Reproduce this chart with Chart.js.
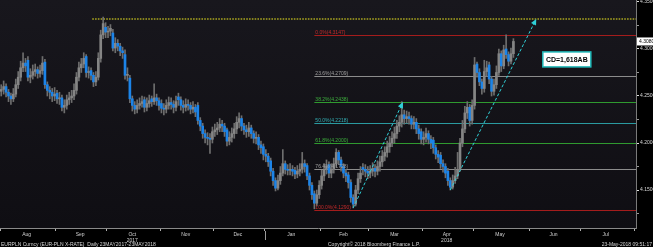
<!DOCTYPE html>
<html><head><meta charset="utf-8">
<script src="https://cdn.jsdelivr.net/npm/chart.js@4.4.1/dist/chart.umd.min.js"></script>
<style>html,body{margin:0;padding:0;background:#000;overflow:hidden}canvas{display:block}</style>
</head><body>
<canvas id="c" width="653" height="247"></canvas>
<script>
// Daily EUR/PLN bars, trading-day index 0 = 1 Aug 2017 ... 211 = 23 May 2018
const opens=[4.255,4.257,4.260,4.254,4.250,4.247,4.252,4.262,4.270,4.280,
4.285,4.288,4.270,4.272,4.276,4.278,4.274,4.277,4.286,4.262,
4.256,4.254,4.250,4.253,4.247,4.248,4.238,4.240,4.246,4.248,
4.250,4.256,4.270,4.280,4.284,4.292,4.275,4.277,4.272,4.265,
4.270,4.290,4.315,4.323,4.318,4.319,4.317,4.301,4.306,4.303,
4.298,4.294,4.272,4.269,4.247,4.240,4.236,4.240,4.242,4.246,
4.238,4.242,4.247,4.244,4.248,4.245,4.242,4.237,4.236,4.240,
4.243,4.241,4.238,4.249,4.246,4.240,4.238,4.241,4.240,4.236,
4.238,4.240,4.224,4.218,4.210,4.206,4.205,4.204,4.212,4.214,
4.216,4.220,4.218,4.214,4.202,4.206,4.210,4.215,4.222,4.226,
4.218,4.214,4.212,4.216,4.210,4.205,4.206,4.198,4.196,4.188,
4.186,4.181,4.170,4.160,4.152,4.160,4.168,4.178,4.172,4.171,
4.172,4.171,4.167,4.170,4.172,4.178,4.176,4.165,4.155,4.146,
4.136,4.145,4.155,4.165,4.172,4.177,4.168,4.172,4.178,4.190,
4.182,4.175,4.168,4.166,4.158,4.142,4.135,4.150,4.162,4.174,
4.172,4.170,4.168,4.170,4.173,4.170,4.175,4.180,4.186,4.190,
4.196,4.200,4.205,4.210,4.218,4.222,4.230,4.226,4.228,4.226,
4.220,4.222,4.215,4.212,4.204,4.206,4.210,4.204,4.203,4.195,
4.188,4.187,4.178,4.175,4.170,4.160,4.153,4.160,4.165,4.172,
4.200,4.215,4.232,4.238,4.224,4.240,4.284,4.275,4.265,4.258,
4.276,4.283,4.268,4.255,4.262,4.275,4.295,4.282,4.300,4.294,
4.287,4.295];
const highs=[4.262,4.266,4.263,4.257,4.253,4.258,4.268,4.276,4.287,4.296,
4.290,4.292,4.279,4.283,4.284,4.281,4.283,4.292,4.289,4.265,
4.260,4.258,4.259,4.256,4.254,4.251,4.246,4.251,4.254,4.256,
4.263,4.275,4.286,4.290,4.296,4.294,4.281,4.280,4.275,4.276,
4.296,4.320,4.334,4.328,4.324,4.326,4.321,4.312,4.310,4.306,
4.302,4.299,4.280,4.272,4.250,4.244,4.246,4.248,4.250,4.249,
4.248,4.251,4.250,4.263,4.252,4.248,4.246,4.242,4.246,4.249,
4.248,4.245,4.250,4.253,4.249,4.245,4.247,4.246,4.243,4.244,
4.241,4.243,4.227,4.221,4.214,4.211,4.210,4.217,4.220,4.222,
4.226,4.224,4.221,4.216,4.212,4.216,4.221,4.228,4.232,4.229,
4.221,4.219,4.222,4.219,4.213,4.212,4.209,4.202,4.199,4.193,
4.189,4.184,4.173,4.163,4.166,4.175,4.193,4.181,4.177,4.178,
4.176,4.174,4.176,4.178,4.190,4.182,4.178,4.168,4.158,4.149,
4.150,4.160,4.171,4.178,4.182,4.180,4.178,4.184,4.194,4.192,
4.185,4.178,4.172,4.169,4.161,4.145,4.155,4.168,4.175,4.178,
4.177,4.175,4.176,4.179,4.177,4.181,4.186,4.192,4.196,4.202,
4.207,4.212,4.217,4.224,4.229,4.244,4.235,4.234,4.233,4.229,
4.228,4.226,4.219,4.215,4.212,4.216,4.213,4.208,4.206,4.198,
4.192,4.190,4.182,4.178,4.173,4.163,4.166,4.174,4.190,4.205,
4.224,4.239,4.244,4.241,4.246,4.291,4.286,4.279,4.268,4.288,
4.287,4.286,4.271,4.268,4.282,4.300,4.298,4.304,4.315,4.297,
4.301,4.311];
const lows=[4.250,4.252,4.249,4.244,4.241,4.244,4.249,4.258,4.266,4.276,
4.276,4.266,4.264,4.268,4.271,4.269,4.270,4.273,4.258,4.250,
4.247,4.244,4.245,4.242,4.241,4.234,4.232,4.236,4.241,4.243,
4.246,4.252,4.266,4.275,4.280,4.270,4.269,4.267,4.260,4.261,
4.267,4.286,4.311,4.312,4.312,4.314,4.298,4.296,4.298,4.293,
4.290,4.268,4.266,4.243,4.234,4.231,4.232,4.236,4.238,4.233,
4.234,4.238,4.239,4.241,4.240,4.235,4.232,4.230,4.232,4.236,
4.236,4.232,4.234,4.240,4.235,4.232,4.234,4.235,4.231,4.232,
4.228,4.220,4.213,4.205,4.200,4.198,4.189,4.200,4.207,4.209,
4.212,4.212,4.207,4.197,4.198,4.201,4.205,4.210,4.216,4.213,
4.209,4.206,4.207,4.205,4.200,4.199,4.193,4.189,4.182,4.180,
4.175,4.165,4.155,4.149,4.150,4.156,4.165,4.167,4.166,4.166,
4.165,4.162,4.163,4.165,4.168,4.169,4.161,4.150,4.140,4.130,
4.133,4.141,4.151,4.160,4.167,4.163,4.163,4.168,4.175,4.177,
4.170,4.163,4.159,4.152,4.137,4.131,4.133,4.146,4.158,4.166,
4.164,4.162,4.163,4.165,4.164,4.166,4.170,4.175,4.181,4.185,
4.190,4.196,4.200,4.205,4.212,4.217,4.220,4.221,4.220,4.215,
4.215,4.210,4.204,4.199,4.198,4.201,4.199,4.194,4.189,4.183,
4.179,4.173,4.169,4.163,4.155,4.150,4.151,4.157,4.162,4.170,
4.196,4.211,4.226,4.218,4.220,4.236,4.270,4.261,4.252,4.254,
4.271,4.263,4.250,4.251,4.258,4.272,4.276,4.279,4.290,4.282,
4.284,4.291];
const closes=[4.257,4.260,4.254,4.250,4.247,4.252,4.262,4.270,4.280,4.285,
4.282,4.270,4.272,4.276,4.278,4.274,4.277,4.285,4.262,4.256,
4.254,4.250,4.252,4.247,4.248,4.238,4.240,4.246,4.248,4.250,
4.256,4.270,4.280,4.284,4.290,4.275,4.275,4.272,4.265,4.270,
4.290,4.315,4.327,4.318,4.319,4.322,4.301,4.306,4.303,4.298,
4.296,4.272,4.273,4.247,4.240,4.236,4.240,4.242,4.244,4.238,
4.242,4.245,4.244,4.248,4.245,4.240,4.237,4.236,4.240,4.243,
4.241,4.238,4.244,4.246,4.240,4.238,4.241,4.240,4.236,4.238,
4.233,4.224,4.218,4.210,4.206,4.205,4.204,4.212,4.214,4.216,
4.220,4.218,4.212,4.202,4.206,4.210,4.215,4.222,4.226,4.218,
4.214,4.212,4.216,4.210,4.205,4.206,4.198,4.195,4.188,4.186,
4.180,4.170,4.160,4.152,4.160,4.168,4.178,4.172,4.171,4.172,
4.170,4.167,4.170,4.172,4.178,4.175,4.165,4.155,4.145,4.136,
4.145,4.155,4.165,4.172,4.175,4.168,4.172,4.178,4.190,4.182,
4.175,4.168,4.165,4.158,4.142,4.135,4.150,4.162,4.168,4.172,
4.170,4.168,4.170,4.173,4.170,4.175,4.180,4.186,4.190,4.196,
4.200,4.205,4.210,4.218,4.222,4.230,4.226,4.228,4.226,4.220,
4.222,4.215,4.210,4.204,4.206,4.210,4.204,4.200,4.195,4.188,
4.185,4.178,4.175,4.168,4.160,4.153,4.160,4.165,4.172,4.200,
4.215,4.232,4.238,4.224,4.240,4.283,4.275,4.265,4.258,4.276,
4.280,4.268,4.255,4.262,4.275,4.295,4.282,4.299,4.294,4.287,
4.295,4.308];

const monthNames=['Aug','Sep','Oct','Nov','Dec','Jan','Feb','Mar','Apr','May','Jun','Jul'];
const monthYears=['','','2017','','','','','','2018','','',''];
const monthStartIdx=[0,23,44,66,88,109,132,152,174,195,218,239];
const lastSlot=261;
const yMajorTicks=[4.15,4.20,4.25,4.30,4.35];
const yMinorTicks=[4.125,4.175,4.225,4.275,4.325];

const fibNames=['0.0%','23.6%','38.2%','50.0%','61.8%','76.4%','100.0%'];
const fibValues=[4.3147,4.2709,4.2438,4.2218,4.2000,4.1728,4.1290];
const fibColors=['#a41c1c','#8c8c8c','#2f9a2f','#2a9aa0','#2f9a2f','#8c8c8c','#a41c1c'];
const fibTextColors=['#c42a2a','#a0a0a0','#3db03d','#34b0b6','#3db03d','#a0a0a0','#c42a2a'];
const fibStartIdx=129;
const targetLevel=4.3319, targetStartIdx=37.5;
const arrowAB=[[145,4.131],[165.5,4.2436]];
const arrowCD=[[185,4.150],[220.4,4.3319]];
const boxText='CD=1,618AB', boxAt=[233,4.2889];
const footLeft='EURPLN Curncy (EUR-PLN X-RATE)  Daily 23MAY2017-23MAY2018';
const footMid='Copyright\u00A9 2018 Bloomberg Finance L.P.';
const footRight='23-May-2018 09:51:17';

const FONT='"Liberation Sans", Arial, sans-serif';
const BLUE='#1c84e8', GREY='#858585', WICK='#6e6e6e';

const idx=closes.map((_,i)=>i);
const wickData=idx.map(i=>({x:i,y:[lows[i],highs[i]]}));
const bodyData=idx.map(i=>({x:i,y:[opens[i],closes[i]]}));
const bodyColors=idx.map(i=>closes[i]<opens[i]?BLUE:GREY);

function arrow(c,x,y,p,q){
  const x1=x.getPixelForValue(p[0]),y1=y.getPixelForValue(p[1]);
  const x2=x.getPixelForValue(q[0]),y2=y.getPixelForValue(q[1]);
  const ang=Math.atan2(y2-y1,x2-x1);
  c.strokeStyle='#2fd0d8';c.lineWidth=1;c.setLineDash([3,2]);
  c.beginPath();c.moveTo(x1,y1);c.lineTo(x2-4*Math.cos(ang),y2-4*Math.sin(ang));c.stroke();
  c.setLineDash([]);c.fillStyle='#2fd0d8';
  c.beginPath();c.moveTo(x2,y2);
  c.lineTo(x2-6*Math.cos(ang)+2.8*Math.sin(ang),y2-6*Math.sin(ang)-2.8*Math.cos(ang));
  c.lineTo(x2-6*Math.cos(ang)-2.8*Math.sin(ang),y2-6*Math.sin(ang)+2.8*Math.cos(ang));
  c.closePath();c.fill();
}

const deco={id:'deco',
  beforeDraw(ch){
    const c=ch.ctx,a=ch.chartArea;c.save();
    c.fillStyle='#000';c.fillRect(0,0,ch.width,ch.height);
    const g=c.createLinearGradient(0,a.top,0,a.bottom);
    g.addColorStop(0,'#18171d');g.addColorStop(1,'#0f0e13');
    c.fillStyle=g;c.fillRect(a.left,a.top,a.right-a.left,a.bottom-a.top);
    c.restore();
  },
  beforeDatasetsDraw(ch){
    const c=ch.ctx,a=ch.chartArea,x=ch.scales.x,y=ch.scales.y;
    c.save();c.beginPath();c.rect(a.left,a.top,a.right-a.left,a.bottom-a.top);c.clip();
    const fx=x.getPixelForValue(fibStartIdx);
    fibValues.forEach((v,k)=>{
      const py=Math.round(y.getPixelForValue(v))+0.5;
      c.strokeStyle=fibColors[k];c.lineWidth=1;
      c.beginPath();c.moveTo(fx,py);c.lineTo(a.right,py);c.stroke();
    });
    const ty=y.getPixelForValue(targetLevel);
    c.strokeStyle='#a9a51f';c.lineWidth=1.6;c.setLineDash([1.6,1.2]);
    c.beginPath();c.moveTo(x.getPixelForValue(targetStartIdx),ty);c.lineTo(a.right,ty);c.stroke();
    c.restore();
  },
  afterDatasetsDraw(ch){
    const c=ch.ctx,a=ch.chartArea,x=ch.scales.x,y=ch.scales.y;
    c.save();
    c.font='5px '+FONT;c.textBaseline='alphabetic';c.textAlign='left';
    const fx=x.getPixelForValue(fibStartIdx);
    fibValues.forEach((v,k)=>{
      c.fillStyle=fibTextColors[k];
      c.fillText(fibNames[k]+'('+v.toFixed(4)+')',fx+1,Math.round(y.getPixelForValue(v))-1);
    });
    arrow(c,x,y,arrowAB[0],arrowAB[1]);
    arrow(c,x,y,arrowCD[0],arrowCD[1]);
    const bx=x.getPixelForValue(boxAt[0]),by=y.getPixelForValue(boxAt[1]);
    c.fillStyle='#ffffff';c.fillRect(bx-24,by-7.5,48,15);
    c.strokeStyle='#1fb8b8';c.lineWidth=1.5;c.strokeRect(bx-24,by-7.5,48,15);
    c.fillStyle='#000';c.font='bold 7px '+FONT;c.textAlign='center';c.textBaseline='middle';
    c.fillText(boxText,bx,by+0.5);
    const last=closes[closes.length-1],py=y.getPixelForValue(last);
    c.fillStyle='#ffffff';c.fillRect(a.right+1,py-4,ch.width-a.right-1,8);
    c.fillStyle='#000';c.font='5px '+FONT;c.textAlign='left';
    c.fillText(last.toFixed(4),a.right+3,py+0.5);
    const jx=Math.round(x.getPixelForValue(monthStartIdx[5]-0.5))+0.5;
    c.strokeStyle='#9a9a9a';c.lineWidth=1;c.beginPath();c.moveTo(jx,a.bottom+3);c.lineTo(jx,a.bottom+12);c.stroke();
    c.fillStyle='#d6d6d6';c.font='5px '+FONT;c.textBaseline='alphabetic';
    c.textAlign='left';c.fillText(footLeft,1,246);
    c.fillText(footMid,328,246);
    c.textAlign='right';c.fillText(footRight,652,246);
    c.restore();
  }
};

const xTicks=[];
monthStartIdx.forEach((s,k)=>{
  xTicks.push({value:s-0.5,txt:'',start:true});
  const e=k+1<monthStartIdx.length?monthStartIdx[k+1]:lastSlot;
  xTicks.push({value:(s+e)/2-1,txt:monthYears[k]?[monthNames[k],monthYears[k]]:monthNames[k],start:false});
});
xTicks.push({value:lastSlot-0.3,txt:'',start:true});
const yTickList=yMinorTicks.map(v=>({value:v,major:false})).concat(yMajorTicks.map(v=>({value:v,major:true}))).sort((p,q)=>p.value-q.value);

new Chart(document.getElementById('c'),{
  type:'bar',
  data:{datasets:[
    {data:wickData,backgroundColor:WICK,barThickness:1,grouped:false,order:2,borderWidth:0},
    {data:bodyData,backgroundColor:bodyColors,barThickness:2,minBarLength:1,grouped:false,order:1,borderWidth:0}
  ]},
  plugins:[deco],
  options:{
    responsive:false,animation:false,devicePixelRatio:1,
    layout:{padding:0},
    plugins:{legend:{display:false},tooltip:{enabled:false}},
    scales:{
      x:{type:'linear',position:'bottom',min:-0.5,max:lastSlot+0.5,offset:false,
        afterFit(s){s.height=19;s.paddingLeft=0;s.paddingRight=0;},
        afterBuildTicks(s){s.ticks=xTicks.map(t=>Object.assign({},t));},
        ticks:{autoSkip:false,maxRotation:0,minRotation:0,padding:1,color:'#d0d0d0',
          font:{size:5,family:FONT,lineHeight:1.1},
          callback:(v,i,t)=>t[i].txt},
        grid:{offset:false,drawOnChartArea:false,tickLength:3,tickWidth:1,
          tickColor:ctx=>(ctx.tick&&ctx.tick.start)?'#b0b0b0':'rgba(0,0,0,0)'},
        border:{color:'#8a8a8a',width:1}},
      y:{type:'linear',position:'right',min:4.1096,max:4.3521,
        afterFit(s){s.width=17;s.paddingTop=0;s.paddingBottom=0;},
        afterBuildTicks(s){s.ticks=yTickList.map(t=>Object.assign({},t));},
        ticks:{autoSkip:false,padding:1,color:'#d8d8d8',font:{size:5,family:FONT,lineHeight:0.2},
          callback:(v,i,t)=>t[i].major?Number(v).toFixed(4):''},
        grid:{drawOnChartArea:false,tickLength:3,tickWidth:1,
          tickColor:ctx=>(ctx.tick&&ctx.tick.major)?'#e0e0e0':'#9a9a9a'},
        border:{color:'#7a7a7a',width:1}}
    }
  }
});
</script>
</body></html>
